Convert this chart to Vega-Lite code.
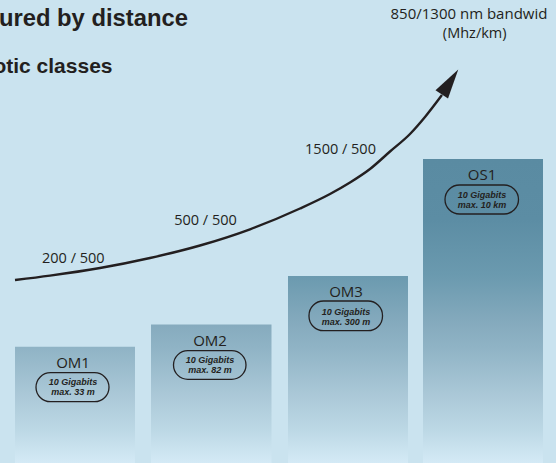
{
  "$schema": "https://vega.github.io/schema/vega-lite/v6.json",
  "width": 556,
  "height": 463,
  "padding": 0,
  "autosize": {"type": "none"},
  "background": "#cae3ef",
  "config": {"view": {"stroke": null}},
  "datasets": {
    "classes": [
      {"cls": "OM1", "x0": 15, "x1": 135, "h": 116.3, "xc": 73, "px0": 36, "px1": 109, "py0": 90.3, "py1": 61.3, "t1": "10 Gigabits", "t2": "max. 33 m"},
      {"cls": "OM2", "x0": 151, "x1": 271.5, "h": 138.5, "xc": 210, "px0": 173.5, "px1": 246, "py0": 112.3, "py1": 83.7, "t1": "10 Gigabits", "t2": "max. 82 m"},
      {"cls": "OM3", "x0": 288, "x1": 408, "h": 187, "xc": 346, "px0": 309, "px1": 382.5, "py0": 162, "py1": 132.3, "t1": "10 Gigabits", "t2": "max. 300 m"},
      {"cls": "OS1", "x0": 423, "x1": 543, "h": 304, "xc": 482, "px0": 445, "px1": 518.5, "py0": 278, "py1": 249, "t1": "10 Gigabits", "t2": "max. 10 km"}
    ],
    "curve": [
      {"x": 15, "y": 183},
      {"x": 50, "y": 187.4},
      {"x": 100, "y": 195},
      {"x": 150, "y": 205},
      {"x": 200, "y": 217.5},
      {"x": 250, "y": 233.7},
      {"x": 300, "y": 254.5},
      {"x": 330, "y": 269},
      {"x": 350, "y": 280.5},
      {"x": 370, "y": 294},
      {"x": 390, "y": 311.5},
      {"x": 410, "y": 329},
      {"x": 425, "y": 346},
      {"x": 442, "y": 368}
    ],
    "arrow": [{"x": 450, "y": 381.1}],
    "curveLabels": [
      {"x": 73.3, "y": 200.3, "label": "200 / 500"},
      {"x": 205.5, "y": 238, "label": "500 / 500"},
      {"x": 340.5, "y": 309, "label": "1500 / 500"},
      {"x": 474.7, "y": 425.3, "label": "(Mhz/km)"}
    ],
    "topRight": [{"x": 390.5, "y": 443.7, "label": "850/1300 nm bandwid"}],
    "titles": [
      {"x": 188, "y": 437, "label": "ured by distance", "size": 23.8},
      {"x": 112.5, "y": 389.7, "label": "otic classes", "size": 21}
    ]
  },
  "layer": [
    {
      "data": {"name": "classes"},
      "mark": {"type": "rect"},
      "encoding": {
        "x": {"field": "x0", "type": "quantitative", "scale": {"domain": [0, 556], "nice": false, "zero": false}, "axis": null},
        "x2": {"field": "x1"},
        "y": {"field": "h", "type": "quantitative", "scale": {"domain": [0, 463], "nice": false, "zero": false}, "axis": null},
        "y2": {"datum": 0},
        "fill": {
          "condition": [
            {"test": "datum.cls === 'OM1'", "value": {"gradient": "linear", "x1": 0, "y1": -1.614, "x2": 0, "y2": 1, "stops": [
              {"offset": 0, "color": "#5a8ba2"}, {"offset": 0.2, "color": "#5c8da4"}, {"offset": 0.385, "color": "#6b9aaf"}, {"offset": 0.546, "color": "#86abbe"}, {"offset": 0.618, "color": "#8fb3c5"}, {"offset": 0.79, "color": "#adcad9"}, {"offset": 0.89, "color": "#bcd8e5"}, {"offset": 1, "color": "#d4eaf6"}]}},
            {"test": "datum.cls === 'OM2'", "value": {"gradient": "linear", "x1": 0, "y1": -1.195, "x2": 0, "y2": 1, "stops": [
              {"offset": 0, "color": "#5a8ba2"}, {"offset": 0.2, "color": "#5c8da4"}, {"offset": 0.385, "color": "#6b9aaf"}, {"offset": 0.546, "color": "#86abbe"}, {"offset": 0.618, "color": "#8fb3c5"}, {"offset": 0.79, "color": "#adcad9"}, {"offset": 0.89, "color": "#bcd8e5"}, {"offset": 1, "color": "#d4eaf6"}]}},
            {"test": "datum.cls === 'OM3'", "value": {"gradient": "linear", "x1": 0, "y1": -0.626, "x2": 0, "y2": 1, "stops": [
              {"offset": 0, "color": "#5a8ba2"}, {"offset": 0.2, "color": "#5c8da4"}, {"offset": 0.385, "color": "#6b9aaf"}, {"offset": 0.546, "color": "#86abbe"}, {"offset": 0.618, "color": "#8fb3c5"}, {"offset": 0.79, "color": "#adcad9"}, {"offset": 0.89, "color": "#bcd8e5"}, {"offset": 1, "color": "#d4eaf6"}]}}
          ],
          "value": {"gradient": "linear", "x1": 0, "y1": 0, "x2": 0, "y2": 1, "stops": [
            {"offset": 0, "color": "#5a8ba2"}, {"offset": 0.2, "color": "#5c8da4"}, {"offset": 0.385, "color": "#6b9aaf"}, {"offset": 0.546, "color": "#86abbe"}, {"offset": 0.618, "color": "#8fb3c5"}, {"offset": 0.79, "color": "#adcad9"}, {"offset": 0.89, "color": "#bcd8e5"}, {"offset": 1, "color": "#d4eaf6"}]}
        }
      }
    },
    {
      "data": {"name": "classes"},
      "mark": {"type": "rect", "cornerRadius": 14.5, "fillOpacity": 0, "stroke": "#231f20", "strokeWidth": 1.3},
      "encoding": {
        "x": {"field": "px0", "type": "quantitative", "scale": {"domain": [0, 556], "nice": false, "zero": false}, "axis": null},
        "x2": {"field": "px1"},
        "y": {"field": "py0", "type": "quantitative", "scale": {"domain": [0, 463], "nice": false, "zero": false}, "axis": null},
        "y2": {"field": "py1"}
      }
    },
    {
      "data": {"name": "classes"},
      "mark": {"type": "text", "font": "Open Sans", "fontSize": 15, "dy": 21, "baseline": "alphabetic", "align": "center", "color": "#231f20"},
      "encoding": {
        "x": {"field": "xc", "type": "quantitative", "scale": {"domain": [0, 556], "nice": false, "zero": false}, "axis": null},
        "y": {"field": "h", "type": "quantitative", "scale": {"domain": [0, 463], "nice": false, "zero": false}, "axis": null},
        "text": {"field": "cls"}
      }
    },
    {
      "data": {"name": "classes"},
      "mark": {"type": "text", "font": "Liberation Sans", "fontSize": 9, "fontWeight": "bold", "fontStyle": "italic", "dy": 38.5, "baseline": "alphabetic", "align": "center", "color": "#231f20"},
      "encoding": {
        "x": {"field": "xc", "type": "quantitative", "scale": {"domain": [0, 556], "nice": false, "zero": false}, "axis": null},
        "y": {"field": "h", "type": "quantitative", "scale": {"domain": [0, 463], "nice": false, "zero": false}, "axis": null},
        "text": {"field": "t1"}
      }
    },
    {
      "data": {"name": "classes"},
      "mark": {"type": "text", "font": "Liberation Sans", "fontSize": 9, "fontWeight": "bold", "fontStyle": "italic", "dy": 48.5, "baseline": "alphabetic", "align": "center", "color": "#231f20"},
      "encoding": {
        "x": {"field": "xc", "type": "quantitative", "scale": {"domain": [0, 556], "nice": false, "zero": false}, "axis": null},
        "y": {"field": "h", "type": "quantitative", "scale": {"domain": [0, 463], "nice": false, "zero": false}, "axis": null},
        "text": {"field": "t2"}
      }
    },
    {
      "data": {"name": "curve"},
      "mark": {"type": "line", "interpolate": "monotone", "color": "#231f20", "strokeWidth": 2.4},
      "encoding": {
        "x": {"field": "x", "type": "quantitative", "scale": {"domain": [0, 556], "nice": false, "zero": false}, "axis": null},
        "y": {"field": "y", "type": "quantitative", "scale": {"domain": [0, 463], "nice": false, "zero": false}, "axis": null}
      }
    },
    {
      "data": {"name": "arrow"},
      "mark": {"type": "point", "shape": "M0,-1L0.5,1L-0.5,1Z", "filled": true, "color": "#231f20", "opacity": 1, "size": 900, "angle": 33.4, "strokeWidth": 0},
      "encoding": {
        "x": {"field": "x", "type": "quantitative", "scale": {"domain": [0, 556], "nice": false, "zero": false}, "axis": null},
        "y": {"field": "y", "type": "quantitative", "scale": {"domain": [0, 463], "nice": false, "zero": false}, "axis": null}
      }
    },
    {
      "data": {"name": "curveLabels"},
      "mark": {"type": "text", "font": "Open Sans", "fontSize": 14.5, "baseline": "alphabetic", "align": "center", "color": "#231f20"},
      "encoding": {
        "x": {"field": "x", "type": "quantitative", "scale": {"domain": [0, 556], "nice": false, "zero": false}, "axis": null},
        "y": {"field": "y", "type": "quantitative", "scale": {"domain": [0, 463], "nice": false, "zero": false}, "axis": null},
        "text": {"field": "label"}
      }
    },
    {
      "data": {"name": "topRight"},
      "mark": {"type": "text", "font": "Open Sans", "fontSize": 15, "baseline": "alphabetic", "align": "left", "color": "#231f20"},
      "encoding": {
        "x": {"field": "x", "type": "quantitative", "scale": {"domain": [0, 556], "nice": false, "zero": false}, "axis": null},
        "y": {"field": "y", "type": "quantitative", "scale": {"domain": [0, 463], "nice": false, "zero": false}, "axis": null},
        "text": {"field": "label"}
      }
    },
    {
      "data": {"name": "titles"},
      "mark": {"type": "text", "font": "Liberation Sans", "fontWeight": "bold", "baseline": "alphabetic", "align": "right", "color": "#231f20"},
      "encoding": {
        "x": {"field": "x", "type": "quantitative", "scale": {"domain": [0, 556], "nice": false, "zero": false}, "axis": null},
        "y": {"field": "y", "type": "quantitative", "scale": {"domain": [0, 463], "nice": false, "zero": false}, "axis": null},
        "text": {"field": "label"},
        "size": {"field": "size", "type": "quantitative", "scale": null}
      }
    }
  ]
}
